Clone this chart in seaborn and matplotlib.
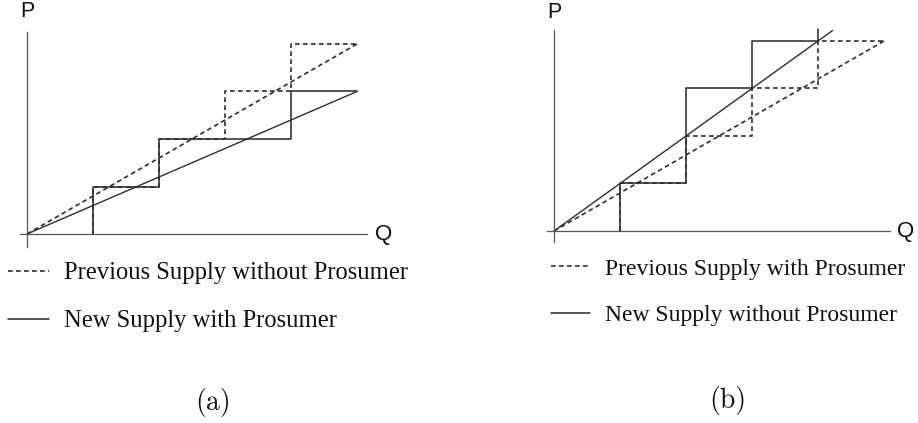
import numpy as np
import pandas as pd
import matplotlib
matplotlib.use("Agg")
import matplotlib.pyplot as plt
import seaborn as sns

# ---- data (step edges in units of Q, price levels in units of P) ----
# (a)
a_prev_q = [1, 2, 3, 4, 5]
a_prev_p = [0, 1, 2, 3, 4]
a_new_q = [1, 2, 4, 5]
a_new_p = [0, 1, 2, 3]
a_prev_line_q = [0, 5]
a_prev_line_p = [0, 4]
a_new_line_q = [0, 5]
a_new_line_p = [0, 3]
a_labels = ["Previous Supply without Prosumer", "New Supply with Prosumer"]

# (b)
b_prev_q = [1, 2, 3, 4, 5]
b_prev_p = [0, 1, 2, 3, 4]
b_new_q = [1, 2, 3, 4, 4]
b_new_p = [0, 1, 3, 4, 4.25]
b_prev_line_q = [0, 5]
b_prev_line_p = [0, 4]
b_new_line_q = [0, 4.22]
b_new_line_p = [0, 4.22]
b_labels = ["Previous Supply with Prosumer", "New Supply without Prosumer"]

captions = ["(a)", "(b)"]

sns.set_theme(style="white")
plt.rcParams["font.family"] = ["Liberation Sans", "DejaVu Sans"]

W, H = 918, 423
fig = plt.figure(figsize=(W / 100, H / 100), dpi=100)

LINE_C = "#2e2e2e"
AXIS_C = "#555555"
DASH = (0, (2.8, 2.0))

XLIM = (-0.3, 5.7)
YLIM = (-0.45, 4.85)
UX, UY = 66.0, 47.5   # px per unit


def make_panel(origin, prev, new, prev_line, new_line, labels, xb, yb, ppos, qpos,
               leg_xy, leg_size, cap_xy, cap):
    ox, oy = origin
    left = ox + XLIM[0] * UX
    bottom = oy - YLIM[0] * UY
    w = (XLIM[1] - XLIM[0]) * UX
    h = (YLIM[1] - YLIM[0]) * UY
    ax = fig.add_axes([left / W, (H - bottom) / H, w / W, h / H])
    ax.set_xlim(*XLIM)
    ax.set_ylim(*YLIM)

    sns.lineplot(x=new[0], y=new[1], ax=ax, color=LINE_C, lw=1.15,
                 drawstyle="steps-pre", sort=False, estimator=None)
    h_new = ax.lines[-1]
    sns.lineplot(x=new_line[0], y=new_line[1], ax=ax, color=LINE_C, lw=1.0,
                 sort=False, estimator=None)
    sns.lineplot(x=prev[0], y=prev[1], ax=ax, color=LINE_C, lw=1.2,
                 drawstyle="steps-pre", sort=False, estimator=None, linestyle=DASH)
    h_prev = ax.lines[-1]
    sns.lineplot(x=prev_line[0], y=prev_line[1], ax=ax, color=LINE_C, lw=1.2,
                 sort=False, estimator=None, linestyle=DASH)

    for s in ["top", "right"]:
        ax.spines[s].set_visible(False)
    for s in ["left", "bottom"]:
        ax.spines[s].set_position(("data", 0))
        ax.spines[s].set_color(AXIS_C)
        ax.spines[s].set_linewidth(0.9)
    ax.spines["bottom"].set_bounds(*xb)
    ax.spines["left"].set_bounds(*yb)
    ax.set_xticks([])
    ax.set_yticks([])
    ax.set_xlabel("")
    ax.set_ylabel("")
    ax.patch.set_alpha(0)

    ax.text(ppos[0], ppos[1], "P", ha="center", va="center", fontsize=15.5,
            color="#111111", clip_on=False)
    ax.text(qpos[0], qpos[1], "Q", ha="center", va="center", fontsize=16,
            color="#111111", clip_on=False)

    leg = fig.legend([h_prev, h_new], labels, loc="upper left",
                     bbox_to_anchor=(leg_xy[0] / W, 1 - leg_xy[1] / H),
                     bbox_transform=fig.transFigure, frameon=False,
                     borderpad=0, borderaxespad=0, handlelength=1.65,
                     handletextpad=0.62, labelspacing=1.06,
                     prop={"family": ["Liberation Serif"], "size": leg_size})
    for t in leg.get_texts():
        t.set_color("#111111")

    fig.text(cap_xy[0] / W, 1 - cap_xy[1] / H, cap, ha="center", va="center",
             fontsize=20, family=["cmr10"], color="#111111")


make_panel((27, 234), (a_prev_q, a_prev_p), (a_new_q, a_new_p),
           (a_prev_line_q, a_prev_line_p), (a_new_line_q, a_new_line_p), a_labels,
           (-0.1, 5.15), (-0.27, 4.25), (0, 4.69), (5.41, 0),
           (8, 262), 17.7, (213, 402), captions[0])
make_panel((554, 231), (b_prev_q, b_prev_p), (b_new_q, b_new_p),
           (b_prev_line_q, b_prev_line_p), (b_new_line_q, b_new_line_p), b_labels,
           (-0.1, 5.09), (-0.23, 4.23), (0, 4.6), (5.33, 0),
           (551, 258), 17.0, (728, 400), captions[1])

fig.savefig("out.png", dpi=100)
